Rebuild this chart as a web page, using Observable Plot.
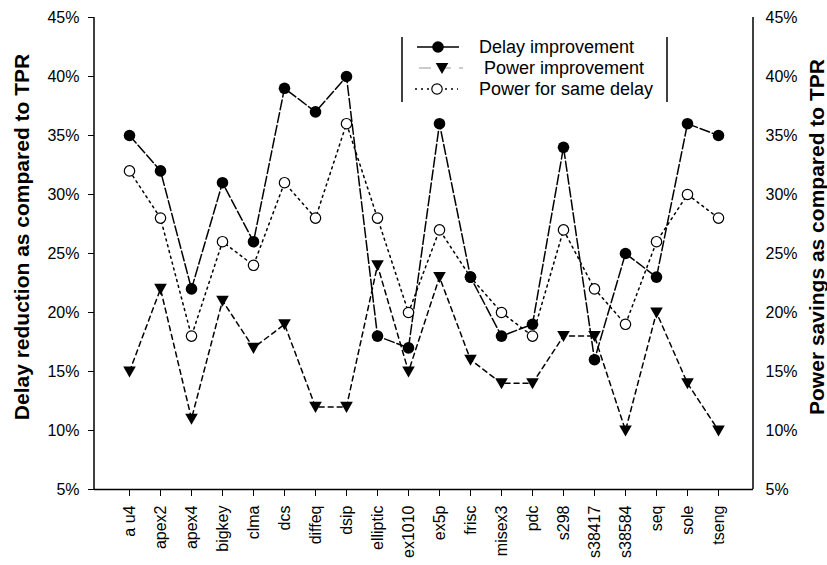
<!DOCTYPE html>
<html>
<head>
<meta charset="utf-8">
<script src="https://cdn.jsdelivr.net/npm/d3@7"></script>
<script src="https://cdn.jsdelivr.net/npm/@observablehq/plot@0.6"></script>
<style>
  html, body { margin: 0; padding: 0; background: #fff; }
  #chart { width: 827px; height: 565px; }
</style>
</head>
<body>
<div id="chart"></div>
<script>
// ---- data ----
const benchmarks = ["a u4", "apex2", "apex4", "bigkey", "clma", "dcs", "diffeq", "dsip", "elliptic", "ex1010",
                    "ex5p", "frisc", "misex3", "pdc", "s298", "s38417", "s38584", "seq", "sole", "tseng"];
const delayImprovement = [35, 32, 22, 31, 26, 39, 37, 40, 18, 17, 36, 23, 18, 19, 34, 16, 25, 23, 36, 35];
const powerImprovement = [15, 22, 11, 21, 17, 19, 12, 12, 24, 15, 23, 16, 14, 14, 18, 18, 10, 20, 14, 10];
const powerSameDelay   = [32, 28, 18, 26, 24, 31, 28, 36, 28, 20, 27, 23, 20, 18, 27, 22, 19, 26, 30, 28];
const yTicks = [5, 10, 15, 20, 25, 30, 35, 40, 45];
const seriesNames = ["Delay improvement", "Power improvement", "Power for same delay"];
const leftTitle = "Delay reduction as compared to TPR";
const rightTitle = "Power savings as compared to TPR";

const toRows = (vals) => benchmarks.map((b, i) => ({bench: b, v: vals[i]}));
const dDelay = toRows(delayImprovement);
const dPower = toRows(powerImprovement);
const dSame = toRows(powerSameDelay);

// downward-pointing triangle symbol
const triDown = {
  draw(ctx, size) {
    const r = Math.sqrt(size / Math.PI);
    ctx.moveTo(-r, -r * 0.8);
    ctx.lineTo(r, -r * 0.8);
    ctx.lineTo(0, r * 0.95);
    ctx.closePath();
  }
};

const FONT = "'Liberation Sans', Arial, Helvetica, sans-serif";
const mL = 94, mR = 74, mT = 17, mB = 76, W = 827, H = 565;

const plot = Plot.plot({
  width: W, height: H,
  marginLeft: mL, marginRight: mR, marginTop: mT, marginBottom: mB,
  style: {fontFamily: FONT, fontSize: "16px", background: "#fff", color: "#000", overflow: "visible"},
  x: {type: "point", domain: benchmarks, padding: 1},
  y: {domain: [5, 45]},
  marks: [
    Plot.axisX({tickSize: 7, tickPadding: 9, tickRotate: -90, label: null, fontSize: 16, stroke: "#000"}),
    Plot.axisY({anchor: "left", ticks: yTicks, tickSize: 6, tickPadding: 9, tickFormat: d => d + "%", label: null, fontSize: 16}),
    Plot.axisY({anchor: "right", ticks: yTicks, tickSize: 0, tickPadding: 12, tickFormat: d => d + "%", label: null, fontSize: 16}),
    Plot.line(dPower, {x: "bench", y: "v", stroke: "#000", strokeWidth: 1.5, strokeDasharray: "5,4"}),
    Plot.line(dSame, {x: "bench", y: "v", stroke: "#000", strokeWidth: 1.5, strokeDasharray: "2,4"}),
    Plot.line(dDelay, {x: "bench", y: "v", stroke: "#000", strokeWidth: 1.5, strokeDasharray: "10,3"}),
    Plot.dot(dPower, {x: "bench", y: "v", symbol: triDown, r: 6.3, fill: "#000", stroke: "none"}),
    Plot.dot(dSame, {x: "bench", y: "v", r: 5.2, fill: "#fff", stroke: "#000", strokeWidth: 1.2}),
    Plot.dot(dDelay, {x: "bench", y: "v", r: 5.8, fill: "#000", stroke: "none"}),
    Plot.ruleY([5], {stroke: "#000", strokeWidth: 1.5})
  ]
});

const svg = d3.select(plot);
const yS = plot.scale("y");
const yTop = yS.apply(45), yBot = yS.apply(5);
const xL = mL, xR = W - mR;

// left and right axis lines
svg.append("line").attr("x1", xL).attr("x2", xL).attr("y1", yTop).attr("y2", yBot)
  .attr("stroke", "#000").attr("stroke-width", 1.5);
svg.append("line").attr("x1", xR).attr("x2", xR).attr("y1", yTop).attr("y2", yBot)
  .attr("stroke", "#000").attr("stroke-width", 1.5);

// axis titles
const yMid = 237;
svg.append("text").text(leftTitle)
  .attr("transform", `translate(21,${yMid}) rotate(-90)`)
  .attr("text-anchor", "middle").attr("dominant-baseline", "central")
  .attr("font-family", FONT).attr("font-weight", "bold").attr("font-size", 21).attr("fill", "#000");
svg.append("text").text(rightTitle)
  .attr("transform", `translate(816,${yMid}) rotate(-90)`)
  .attr("text-anchor", "middle").attr("dominant-baseline", "central")
  .attr("font-family", FONT).attr("font-weight", "bold").attr("font-size", 21).attr("fill", "#000");

// legend
const lg = svg.append("g");
lg.append("line").attr("x1", 402).attr("x2", 402).attr("y1", 37).attr("y2", 102).attr("stroke", "#000").attr("stroke-width", 1.5);
lg.append("line").attr("x1", 667).attr("x2", 667).attr("y1", 37).attr("y2", 102).attr("stroke", "#000").attr("stroke-width", 1.5);
const rowsY = [47, 68, 89];
const textX = [479, 484, 479];
// row 1
lg.append("line").attr("x1", 417).attr("x2", 459).attr("y1", rowsY[0]).attr("y2", rowsY[0]).attr("stroke", "#000").attr("stroke-width", 1.5);
lg.append("circle").attr("cx", 438).attr("cy", rowsY[0]).attr("r", 5.8).attr("fill", "#000");
// row 2
lg.append("line").attr("x1", 419).attr("x2", 463).attr("y1", rowsY[1]).attr("y2", rowsY[1]).attr("stroke", "#bbb").attr("stroke-width", 1.5).attr("stroke-dasharray", "12,8");
lg.append("path").attr("d", d3.symbol(triDown, Math.PI * 6.3 * 6.3)()).attr("transform", `translate(442,${rowsY[1]})`).attr("fill", "#000");
// row 3
lg.append("line").attr("x1", 415).attr("x2", 458).attr("y1", rowsY[2]).attr("y2", rowsY[2]).attr("stroke", "#000").attr("stroke-width", 1.5).attr("stroke-dasharray", "2,4");
lg.append("circle").attr("cx", 437).attr("cy", rowsY[2]).attr("r", 5.2).attr("fill", "#fff").attr("stroke", "#000").attr("stroke-width", 1.2);
seriesNames.forEach((name, i) => {
  lg.append("text").text(name).attr("x", textX[i]).attr("y", rowsY[i])
    .attr("text-anchor", "start")
    .attr("dominant-baseline", "central").attr("font-family", FONT).attr("font-size", 18).attr("fill", "#000");
});

document.getElementById("chart").appendChild(plot);
</script>
</body>
</html>
